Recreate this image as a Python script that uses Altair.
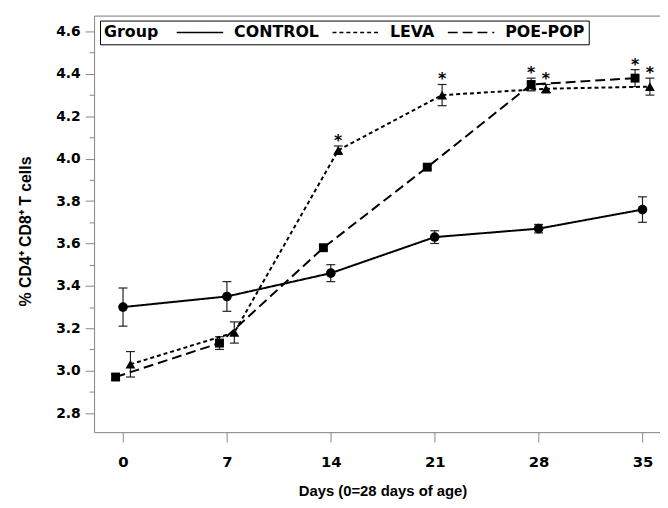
import altair as alt
import pandas as pd

# ---- data ----
days = [0, 7, 14, 21, 28, 35]
groups = ["CONTROL", "LEVA", "POE-POP"]
marker_shapes = ["circle", "triangle-up", "square"]
marker_sizes = [95, 100, 81]

control_mean = [3.30, 3.35, 3.46, 3.63, 3.67, 3.76]
control_se = [0.09, 0.07, 0.04, 0.03, 0.02, 0.06]
control_sig = [False, False, False, False, False, False]

leva_mean = [3.03, 3.18, 4.04, 4.30, 4.33, 4.34]
leva_se = [0.06, 0.05, 0.02, 0.05, 0.02, 0.04]
leva_sig = [False, False, True, True, True, True]

poe_mean = [2.97, 3.13, 3.58, 3.96, 4.35, 4.38]
poe_se = [0.015, 0.03, 0.01, 0.01, 0.03, 0.04]
poe_sig = [False, False, False, False, True, True]

y_ticks = [2.8, 2.9, 3.0, 3.1, 3.2, 3.3, 3.4, 3.5, 3.6, 3.7, 3.8, 3.9,
           4.0, 4.1, 4.2, 4.3, 4.4, 4.5, 4.6]

rows = []
for g, means, ses, sigs in zip(
    groups,
    [control_mean, leva_mean, poe_mean],
    [control_se, leva_se, poe_se],
    [control_sig, leva_sig, poe_sig],
):
    for d, m, s, sg in zip(days, means, ses, sigs):
        rows.append({"group": g, "day": d, "mean": m, "se": s, "sig": sg})
df = pd.DataFrame(rows)

FONT = "DejaVu Sans"

base = alt.Chart(df).transform_calculate(
    xpos="datum.day + (datum.group == 'LEVA' ? 0.5 : (datum.group == 'POE-POP' ? -0.5 : 0))",
    lo="datum.mean - datum.se",
    hi="datum.mean + datum.se",
)

xscale = alt.Scale(domain=[-1.95, 36.18], nice=False, zero=False)
yscale = alt.Scale(domain=[2.71, 4.675], nice=False, zero=False)

major = "round(datum.value * 10) % 2 == 0"

xaxis = alt.Axis(
    values=days, grid=False, tickSize=10, labelPadding=13,
    labelFont=FONT, labelFontWeight="bold", labelColor="black",
    labelFontSize=15, title="Days (0=28 days of age)", titleFontSize=15,
    titleX=291.5, titleY=64, titleBaseline="alphabetic", titleAlign="center",
)
yaxis = alt.Axis(
    values=y_ticks, grid=False,
    tickSize={"condition": {"test": major, "value": 9}, "value": 5},
    labelExpr=major + " ? format(datum.value, '.1f') : ''",
    labelFont=FONT, labelFontWeight="bold", labelColor="black",
    labelPadding=5, labelFontSize=14,
    title="% CD4\u207a CD8\u207a T cells", titleFontSize=16,
    titleX=-69, titleY=217.7, titleAlign="center", titleBaseline="middle",
)


def Y(field):
    return alt.Y(field, type="quantitative", scale=yscale, axis=yaxis)


def Xn():
    return alt.X("xpos:Q", scale=xscale, axis=None)


err = base.mark_rule(color="#222222", strokeWidth=1.2).encode(
    x=Xn(), y=Y("lo"), y2="hi:Q"
)
cap_lo = base.mark_point(shape="stroke", size=81, color="#222222",
                         strokeWidth=1.2, filled=False, opacity=1).encode(
    x=Xn(), y=Y("lo")
)
cap_hi = base.mark_point(shape="stroke", size=81, color="#222222",
                         strokeWidth=1.2, filled=False, opacity=1).encode(
    x=Xn(), y=Y("hi")
)

lines = base.mark_line(strokeWidth=2, color="black").encode(
    x=alt.X("xpos:Q", scale=xscale, axis=xaxis),
    y=Y("mean"),
    strokeDash=alt.StrokeDash(
        "group:N",
        scale=alt.Scale(domain=groups, range=[[1, 0], [4, 3], [10, 5]]),
        legend=alt.Legend(
            orient="none", legendX=6, legendY=5, direction="horizontal",
            title="Group", titleOrient="left", titleFont=FONT,
            titleFontSize=16, titleFontWeight="bold", titleColor="black",
            titlePadding=34,
            labelFont=FONT, labelFontSize=16, labelFontWeight="bold",
            labelColor="black", labelOffset=26.5, columnPadding=9.5,
            symbolType="M-4.7,0H4.7", symbolSize=100, symbolStrokeWidth=1.5,
            symbolStrokeColor="black",
            padding=4, strokeColor="black", fillColor="white",
        ),
    ),
    detail="group:N",
    order="day:Q",
)

point_layers = []
for g, shp, sz in zip(groups, marker_shapes, marker_sizes):
    point_layers.append(
        base.transform_filter(alt.datum.group == g).mark_point(
            filled=True, color="black", opacity=1, shape=shp, size=sz
        ).encode(x=Xn(), y=Y("mean"))
    )

stars = base.transform_filter("datum.sig").mark_text(
    text="*", font=FONT, fontSize=16, fontWeight="bold", dy=-5, color="black"
).encode(
    x=alt.X("xpos:Q", scale=xscale,
            axis=alt.Axis(orient="top", labels=False, ticks=False, title=None,
                          domain=True, grid=False)),
    y=Y("hi"),
)

chart = alt.layer(err, cap_lo, cap_hi, lines, *point_layers, stars).resolve_axis(
    x="independent"
).properties(
    width=572, height=421,
    autosize=alt.AutoSizeParams(type="none"),
    padding={"left": 87, "top": 5, "right": 0, "bottom": 75},
).configure_view(stroke=None).configure_axis(
    domainColor="black", domainWidth=1.3, tickColor="black", tickWidth=1.2,
    labelColor="black", labelFont=FONT, labelFontWeight="bold",
    titleColor="black", titleFont=FONT, titleFontWeight="bold",
).configure(background="white")

chart.save("out.html", embed_options={"renderer": "svg", "actions": False})
